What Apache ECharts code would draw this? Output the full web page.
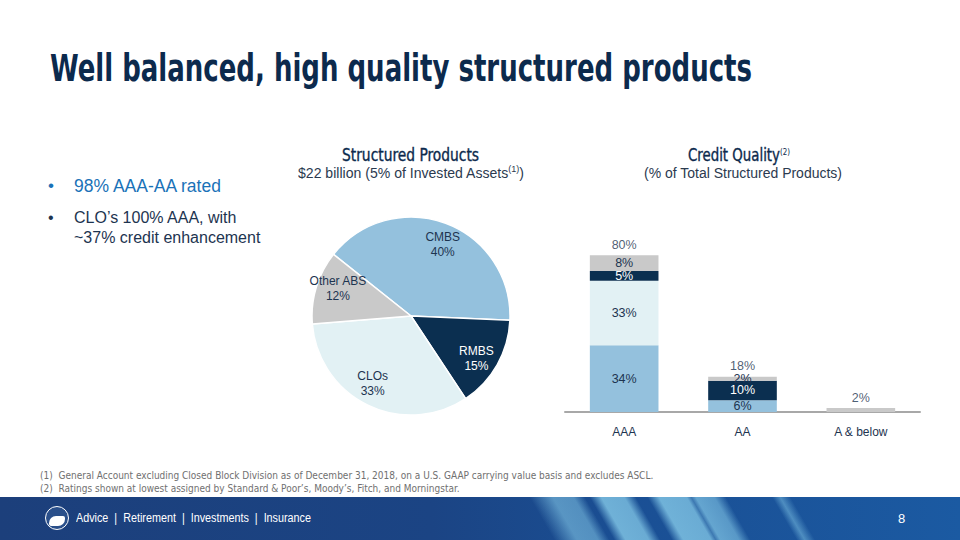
<!DOCTYPE html>
<html>
<head>
<meta charset="utf-8">
<script src="https://cdn.jsdelivr.net/npm/echarts@6/dist/echarts.min.js"></script>
<style>
  html,body{margin:0;padding:0;width:960px;height:540px;overflow:hidden;background:#fff;}
  #chart{position:absolute;left:0;top:0;width:960px;height:540px;}
  .t{position:absolute;white-space:nowrap;transform-origin:left top;}
  #title{left:50px;top:50px;font-family:"DejaVu Sans Condensed","DejaVu Sans",sans-serif;font-weight:bold;font-size:37px;line-height:1;color:#0c2a4d;}
  .bul{font-family:"Liberation Sans",sans-serif;color:#1d3450;font-size:16px;line-height:20px;}
  .hd{font-family:"DejaVu Sans Condensed","DejaVu Sans",sans-serif;font-size:17px;color:#0c2a4d;-webkit-text-stroke:0.35px #0c2a4d;}
  .sub{font-family:"Liberation Sans",sans-serif;font-size:14px;color:#2b3a4f;}
  sup{font-size:9px;vertical-align:6px;line-height:0;-webkit-text-stroke:0;}
  .fn{font-family:"DejaVu Sans Condensed","DejaVu Sans",sans-serif;font-size:10px;color:#707070;left:40px;}
  #footer{position:absolute;left:0;top:497px;width:960px;height:43px;
    background:
      linear-gradient(60deg,
        rgba(140,210,238,0) 480px, rgba(140,210,238,0.55) 500px, rgba(140,210,238,0.5) 518px, rgba(140,210,238,0) 528px,
        rgba(140,210,238,0) 532px, rgba(140,210,238,0.75) 542px, rgba(140,210,238,0.7) 562px, rgba(140,210,238,0) 572px,
        rgba(140,210,238,0) 582px, rgba(140,210,238,0.75) 592px, rgba(140,210,238,0.7) 616px, rgba(140,210,238,0.3) 620px,
        rgba(140,210,238,0.65) 624px, rgba(140,210,238,0.55) 640px, rgba(140,210,238,0) 650px,
        rgba(140,210,238,0) 690px, rgba(140,210,238,0.45) 697px, rgba(140,210,238,0) 706px),
      linear-gradient(90deg,#1c3f7b 0%,#1b4484 45%,#1a4f94 65%,#1b5aa2 100%);}
  #logo{position:absolute;left:45px;top:506px;width:24px;height:24px;border-radius:50%;border:1.5px solid #fff;box-sizing:border-box;overflow:hidden;background:#2a4f8a;}
  #logo:after{content:"";position:absolute;left:3px;top:9px;width:16px;height:10px;background:#fff;border-radius:7px 2px 7px 2px;}
  .ft{font-family:"Liberation Sans",sans-serif;font-size:12.5px;color:#fff;}
</style>
</head>
<body>
<div id="chart"></div>
<div class="t" id="title" data-w="702">Well balanced, high quality structured products</div>

<div class="t bul" style="left:48px;top:176px;font-size:17px;color:#1a72b8;">•</div>
<div class="t bul" style="left:74px;top:176px;font-size:17.5px;color:#1a72b8;">98% AAA-AA rated</div>
<div class="t bul" style="left:48px;top:208px;">•</div>
<div class="t bul" style="left:74px;top:208px;">CLO’s 100% AAA, with<br>~37% credit enhancement</div>

<div class="t hd" id="h1" style="left:342px;top:145px;" data-w="137">Structured Products</div>
<div class="t sub" style="left:298px;top:165px;" data-w="226">$22 billion (5% of Invested Assets<sup>(1)</sup>)</div>
<div class="t hd" id="h2" style="left:688px;top:145px;" data-w="102">Credit Quality<sup>(2)</sup></div>
<div class="t sub" style="left:644px;top:165px;" data-w="198">(% of Total Structured Products)</div>

<div class="t fn" style="top:470px;">(1)&nbsp; General Account excluding Closed Block Division as of December 31, 2018, on a U.S. GAAP carrying value basis and excludes ASCL.</div>
<div class="t fn" style="top:483px;">(2)&nbsp; Ratings shown at lowest assigned by Standard &amp; Poor’s, Moody’s, Fitch, and Morningstar.</div>

<div id="footer"></div>
<div id="logo"></div>
<div class="t ft" style="left:76px;top:511px;" data-w="235">Advice &nbsp;|&nbsp; Retirement &nbsp;|&nbsp; Investments &nbsp;|&nbsp; Insurance</div>
<div class="t ft" style="left:898px;top:511px;font-size:13px;">8</div>

<script>
// ---- Data ----
const pieNames  = ['CMBS', 'RMBS', 'CLOs', 'Other ABS'];
const pieValues = [40, 15, 33, 12];

const ratingCats = ['AAA', 'AA', 'A & below'];
const cmbsByRating  = [34, 6, 0];
const closByRating  = [33, 0, 0];
const rmbsByRating  = [5, 10, 0];
const otherByRating = [8, 2, 2];

// ---- fit text widths ----
document.querySelectorAll('[data-w]').forEach(el => {
  const w = el.getBoundingClientRect().width;
  el.style.transform = 'scaleX(' + (parseFloat(el.dataset.w) / w) + ')';
});

// ---- Styling ----
const colors = { 'CMBS': '#94c1dd', 'RMBS': '#0b2f50', 'CLOs': '#e2f1f4', 'Other ABS': '#c9c9c9' };
const labelColor = { 'CMBS': '#1d3450', 'RMBS': '#ffffff', 'CLOs': '#1d3450', 'Other ABS': '#1d3450' };
const FONT = 'Liberation Sans';

const stacks = [
  { name: 'CMBS', values: cmbsByRating },
  { name: 'CLOs', values: closByRating },
  { name: 'RMBS', values: rmbsByRating },
  { name: 'Other ABS', values: otherByRating }
];
const totals = ratingCats.map((c, i) => stacks.reduce((s, st) => s + st.values[i], 0));

const pieData = pieNames.map((n, i) => ({ name: n, value: pieValues[i], itemStyle: { color: colors[n] } }));
const pieLabelData = pieNames.map((n, i) => ({ name: n, value: pieValues[i], label: { color: labelColor[n] } }));

const barSeries = stacks.map(st => ({
  type: 'bar', name: st.name, stack: 'q', barWidth: '58%',
  itemStyle: { color: colors[st.name] },
  data: st.values.map((v, i) => ({
    value: v,
    label: { show: v > 0 && v !== totals[i] }
  })),
  label: { position: 'inside', formatter: '{c}%', color: labelColor[st.name], fontSize: 12.5, fontFamily: FONT },
  silent: true
}));

const chart = echarts.init(document.getElementById('chart'), null, { renderer: 'svg' });
chart.setOption({
  animation: false,
  grid: { left: 565, right: 40, top: 216, bottom: 128 },
  xAxis: {
    type: 'category', data: ratingCats,
    axisLine: { lineStyle: { color: '#a8a8a8', width: 2 } },
    axisTick: { show: false },
    axisLabel: { color: '#1d3450', fontSize: 12, fontFamily: FONT, margin: 14 }
  },
  yAxis: { type: 'value', min: 0, max: 100, show: false, splitLine: { show: false } },
  series: [
    {
      type: 'pie', center: [411, 316], radius: [0, 99], startAngle: 141.5, clockwise: true,
      data: pieData, label: { show: false }, labelLine: { show: false },
      itemStyle: { borderColor: '#fff', borderWidth: 1.5 }, silent: true
    },
    {
      type: 'pie', center: [411, 316], radius: [51, 99], startAngle: 138, clockwise: true,
      data: pieLabelData,
      itemStyle: { color: 'rgba(0,0,0,0)' },
      label: { show: true, position: 'inside', formatter: '{b}\n{c}%', fontSize: 12, lineHeight: 15, fontFamily: FONT },
      labelLine: { show: false }, silent: true
    },
    ...barSeries,
    {
      type: 'scatter', data: totals, symbolSize: 0.1, itemStyle: { color: 'rgba(0,0,0,0)' },
      label: { show: true, position: 'top', distance: 4, formatter: '{c}%', color: '#1d3450', fontSize: 12.5, fontFamily: FONT },
      silent: true
    }
  ]
});
</script>
</body>
</html>
